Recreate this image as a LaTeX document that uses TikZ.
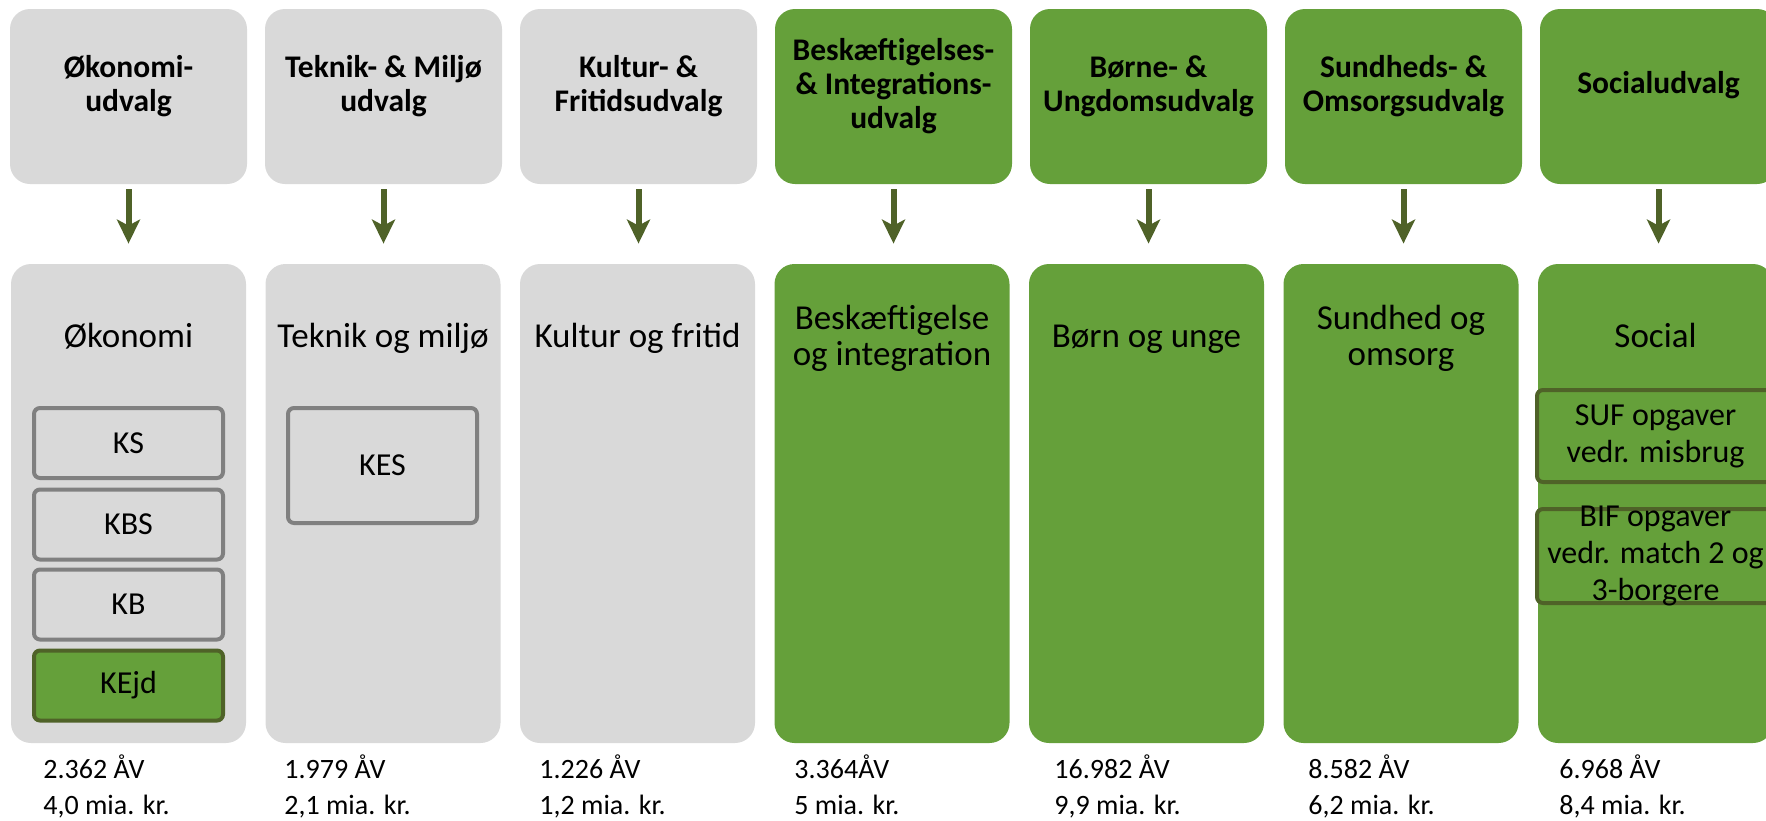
\documentclass[tikz,border=0pt]{standalone}
\usepackage{fontspec}
\setmainfont{Carlito}
\usetikzlibrary{arrows.meta, positioning, calc}

\definecolor{boxgray}{RGB}{217,217,217}
\definecolor{boxgreen}{RGB}{101,160,58}
\definecolor{darkgreen}{RGB}{79,98,40}
\definecolor{framegray}{RGB}{128,128,128}

\tikzset{
  udvalg/.style={rectangle, rounded corners=10pt, minimum width=118.5pt, minimum height=87.5pt, inner sep=0pt},
  omraade/.style={rectangle, rounded corners=10pt, minimum width=117.5pt, minimum height=239.5pt, inner sep=0pt},
  enhed/.style={rectangle, rounded corners=3pt, line width=2pt, minimum width=94.5pt, minimum height=35pt, inner sep=0pt, align=center, font=\fontsize{16}{18.5}\selectfont},
  udtitel/.style={anchor=base, align=center, inner sep=0pt, font=\bfseries\fontsize{15.75}{17}\selectfont},
  omtitel/.style={anchor=base, align=center, inner sep=0pt, font=\fontsize{17.5}{18}\selectfont},
  tal/.style={anchor=base west, align=left, inner sep=0pt, font=\fontsize{14}{18}\selectfont},
  pil/.style={darkgreen, line width=3pt, -{Stealth[length=12pt, width=11.5pt, inset=3pt]}, shorten <=2.5pt, shorten >=10pt},
}

\begin{document}
\begin{tikzpicture}[x=0.5pt, y=-0.5pt]
  \useasboundingbox (0,0) rectangle (1766,820);
  \clip (0,0) rectangle (1766,820);

  % udvalg
  \node[udvalg, fill=boxgray] (u1) at (128.5,96.5) {};
  \node[udvalg, fill=boxgray] (u2) at (383.5,96.5) {};
  \node[udvalg, fill=boxgray] (u3) at (638.5,96.5) {};
  \node[udvalg, fill=boxgreen] (u4) at (893.5,96.5) {};
  \node[udvalg, fill=boxgreen] (u5) at (1148.5,96.5) {};
  \node[udvalg, fill=boxgreen] (u6) at (1403.5,96.5) {};
  \node[udvalg, fill=boxgreen] (u7) at (1658.5,96.5) {};

  % base = last line
  \node[udtitel] (t1) at (128.5,111) {Økonomi-\\udvalg};
  \node[udtitel] (t2) at (383.5,111) {Teknik- \& Miljø\\udvalg};
  \node[udtitel] (t3) at (638.5,111) {Kultur- \&\\Fritidsudvalg};
  \node[udtitel] (t4) at (893.5,128) {Beskæftigelses-\\\& Integrations-\\udvalg};
  \node[udtitel] (t5) at (1148.5,111) {Børne- \&\\Ungdomsudvalg};
  \node[udtitel] (t6) at (1403.5,111) {Sundheds- \&\\Omsorgsudvalg};
  \node[udtitel] (t7) at (1658.5,93) {Socialudvalg};

  % omraader
  \node[omraade, fill=boxgray] (o1) at (128.5,503.5) {};
  \node[omraade, fill=boxgray] (o2) at (383,503.5) {};
  \node[omraade, fill=boxgray] (o3) at (637.5,503.5) {};
  \node[omraade, fill=boxgreen] (o4) at (892,503.5) {};
  \node[omraade, fill=boxgreen] (o5) at (1146.5,503.5) {};
  \node[omraade, fill=boxgreen] (o6) at (1401,503.5) {};
  \node[omraade, fill=boxgreen] (o7) at (1655.5,503.5) {};

  \node[omtitel] (n1) at (128.5,347) {Økonomi};
  \node[omtitel] (n2) at (383,347) {Teknik og miljø};
  \node[omtitel] (n3) at (637.5,347) {Kultur og fritid};
  \node[omtitel] (n4) at (892,365) {Beskæftigelse\\og integration};
  \node[omtitel] (n5) at (1146.5,347) {Børn og unge};
  \node[omtitel] (n6) at (1401,365) {Sundhed og\\omsorg};
  \node[omtitel] (n7) at (1655.5,347) {Social};

  \draw[pil] (u1.south) -- (u1.south |- o1.north);
  \draw[pil] (u2.south) -- (u2.south |- o2.north);
  \draw[pil] (u3.south) -- (u3.south |- o3.north);
  \draw[pil] (u4.south) -- (u4.south |- o4.north);
  \draw[pil] (u5.south) -- (u5.south |- o5.north);
  \draw[pil] (u6.south) -- (u6.south |- o6.north);
  \draw[pil] (u7.south) -- (u7.south |- o7.north);

  % enheder
  \node[enhed, fill=boxgray, draw=framegray] (ks) at (128.5,443) {KS};
  \node[enhed, fill=boxgray, draw=framegray] (kbs) at (128.5,524.5) {KBS};
  \node[enhed, fill=boxgray, draw=framegray] (kb) at (128.5,604.5) {KB};
  \node[enhed, fill=boxgreen, draw=darkgreen] (kejd) at (128.5,685.5) {KEjd};
  \node[enhed, fill=boxgray, draw=framegray, minimum height=57.5pt] (kes) at (382.5,465.5) {KES};
  \node[enhed, fill=boxgreen, draw=darkgreen, minimum width=118.5pt, minimum height=46pt] (suf) at (1655.5,436) {SUF opgaver\\vedr. misbrug};
  \node[enhed, fill=boxgreen, draw=darkgreen, minimum width=118.5pt, minimum height=47pt] (bif) at (1655.5,556) {};
  \node[enhed, draw=none, fill=none] (biftxt) at (bif.center) {BIF opgaver\\vedr. match 2 og\\3-borgere};

  % noegletal
  \node[tal] (a1) at (43,814) {2.362 ÅV\\4,0 mia. kr.};
  \node[tal] (a2) at (284,814) {1.979 ÅV\\2,1 mia. kr.};
  \node[tal] (a3) at (539,814) {1.226 ÅV\\1,2 mia. kr.};
  \node[tal] (a4) at (794,814) {3.364ÅV\\5 mia. kr.};
  \node[tal] (a5) at (1054,814) {16.982 ÅV\\9,9 mia. kr.};
  \node[tal] (a6) at (1308,814) {8.582 ÅV\\6,2 mia. kr.};
  \node[tal] (a7) at (1559,814) {6.968 ÅV\\8,4 mia. kr.};
\end{tikzpicture}
\end{document}
